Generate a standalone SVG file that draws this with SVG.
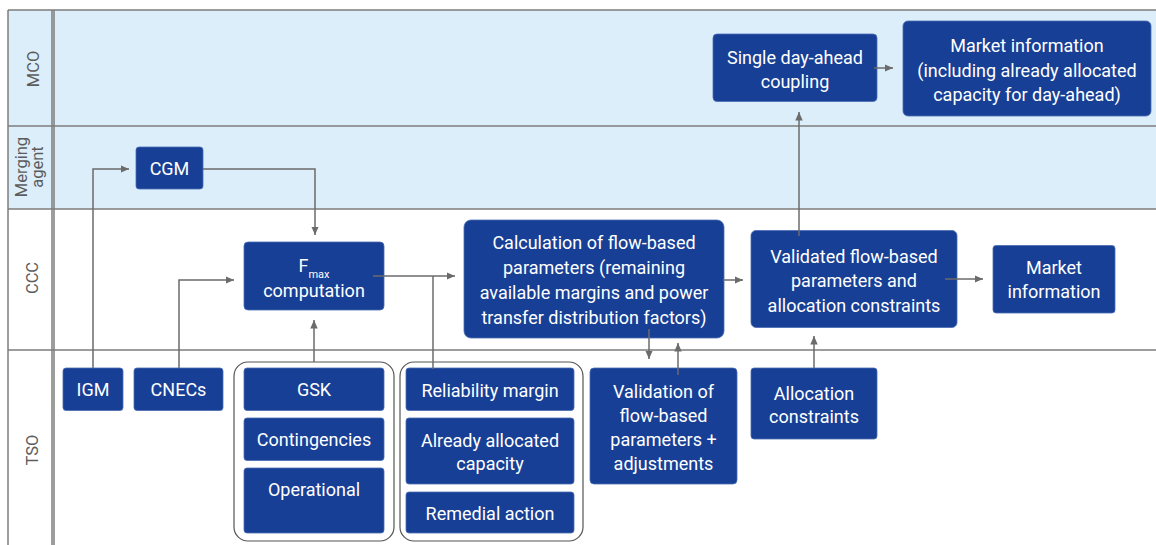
<svg xmlns="http://www.w3.org/2000/svg" width="1156" height="545" viewBox="0 0 1156 545">
  <style>
    .lane-fill { fill: #dceefa; }
    .grid { stroke: #7d7d7d; stroke-width: 1.5; fill: none; }
    .lane-label { font-family: Roboto, "Liberation Sans", sans-serif; font-size: 16.5px; fill: #5c5c5c; text-anchor: middle; }
    .box { fill: #183f96; stroke: #4a6cb3; stroke-width: 0.8; }
    .label { font-family: Roboto, "Liberation Sans", sans-serif; font-size: 18px; fill: #ffffff; text-anchor: middle; }
    .sub { font-size: 11px; }
    .frame { fill: none; stroke: #555555; stroke-width: 1.2; }
    .conn { fill: none; stroke: #6b6b6b; stroke-width: 1.5; }
  </style>
  <defs>
    <marker id="arrow" markerUnits="userSpaceOnUse" markerWidth="9" markerHeight="8" refX="8.5" refY="3.75" orient="auto">
      <path d="M0,0 L8.5,3.75 L0,7.5 z" fill="#6b6b6b"/>
    </marker>
  </defs>

  <rect width="1156" height="545" fill="#ffffff"/>

  <!-- swimlanes -->
  <g id="lanes">
    <rect class="lane-fill" x="8" y="10" width="1148" height="199"/>
    <path class="grid" d="M8,10 H1156 M8,126 H1156 M8,209 H1156 M8,350 H1156 M8,10 V545 M52,10 V545 M54,10 V545"/>
    <text class="lane-label" transform="translate(39,69) rotate(-90)">MCO</text>
    <text class="lane-label" transform="translate(27,167) rotate(-90)">Merging</text>
    <text class="lane-label" transform="translate(43,167) rotate(-90)">agent</text>
    <text class="lane-label" transform="translate(38,278) rotate(-90)">CCC</text>
    <text class="lane-label" transform="translate(38,450) rotate(-90)">TSO</text>
  </g>

  <!-- TSO input groupings -->
  <g id="group-network-inputs">
    <rect class="frame" x="234" y="362" width="160" height="179" rx="14"/>
  </g>
  <g id="group-margin-inputs">
    <rect class="frame" x="400" y="362" width="183" height="179" rx="14"/>
  </g>

  <!-- MCO -->
  <g id="sdac">
    <rect class="box" x="713" y="34" width="164" height="67.5" rx="4"/>
    <text class="label" x="795" y="64.3">Single day-ahead</text>
    <text class="label" x="795" y="88.3">coupling</text>
  </g>
  <g id="market-info-mco">
    <rect class="box" x="903" y="21" width="248" height="95" rx="5"/>
    <text class="label" x="1027" y="51.7">Market information</text>
    <text class="label" x="1027" y="76.7">(including already allocated</text>
    <text class="label" x="1027" y="101">capacity for day-ahead)</text>
  </g>

  <!-- Merging agent -->
  <g id="cgm">
    <rect class="box" x="136" y="147" width="67" height="42" rx="3"/>
    <text class="label" x="169.5" y="174.5">CGM</text>
  </g>

  <!-- CCC -->
  <g id="fmax">
    <rect class="box" x="244" y="242" width="140" height="68" rx="4"/>
    <text class="label" x="314" y="271.7">F<tspan class="sub" dy="6">max</tspan></text>
    <text class="label" x="314" y="296.7">computation</text>
  </g>
  <g id="fb-calculation">
    <rect class="box" x="464" y="220" width="260" height="118" rx="7"/>
    <text class="label" x="594" y="249.3">Calculation of flow-based</text>
    <text class="label" x="594" y="274.3">parameters (remaining</text>
    <text class="label" x="594" y="299.3">available margins and power</text>
    <text class="label" x="594" y="324">transfer distribution factors)</text>
  </g>
  <g id="validated-params">
    <rect class="box" x="751" y="230.5" width="206" height="97" rx="5"/>
    <text class="label" x="854" y="263.3">Validated flow-based</text>
    <text class="label" x="854" y="287.3">parameters and</text>
    <text class="label" x="854" y="311.7">allocation constraints</text>
  </g>
  <g id="market-info-ccc">
    <rect class="box" x="993" y="245.5" width="122" height="67.5" rx="3"/>
    <text class="label" x="1054" y="274.3">Market</text>
    <text class="label" x="1054" y="298.3">information</text>
  </g>

  <!-- TSO -->
  <g id="igm">
    <rect class="box" x="63" y="368" width="60" height="42.5" rx="3"/>
    <text class="label" x="93" y="395.5">IGM</text>
  </g>
  <g id="cnecs">
    <rect class="box" x="134" y="368" width="89" height="42.5" rx="3"/>
    <text class="label" x="178.5" y="395.5">CNECs</text>
  </g>
  <g id="gsk">
    <rect class="box" x="244" y="368" width="140" height="42.5" rx="3"/>
    <text class="label" x="314" y="396">GSK</text>
  </g>
  <g id="contingencies">
    <rect class="box" x="244" y="418" width="140" height="42.5" rx="3"/>
    <text class="label" x="314" y="446">Contingencies</text>
  </g>
  <g id="operational">
    <rect class="box" x="244" y="468" width="140" height="65" rx="3"/>
    <text class="label" x="314" y="496">Operational</text>
  </g>
  <g id="reliability-margin">
    <rect class="box" x="406" y="368" width="168" height="42.5" rx="3"/>
    <text class="label" x="490" y="396.7">Reliability margin</text>
  </g>
  <g id="already-allocated">
    <rect class="box" x="406" y="418" width="168" height="66" rx="3"/>
    <text class="label" x="490" y="446.7">Already allocated</text>
    <text class="label" x="490" y="470">capacity</text>
  </g>
  <g id="remedial-action">
    <rect class="box" x="406" y="492" width="168" height="41" rx="3"/>
    <text class="label" x="490" y="520">Remedial action</text>
  </g>
  <g id="validation">
    <rect class="box" x="590" y="368" width="147" height="116" rx="4"/>
    <text class="label" x="663.5" y="398.3">Validation of</text>
    <text class="label" x="663.5" y="421.7">flow-based</text>
    <text class="label" x="663.5" y="446">parameters +</text>
    <text class="label" x="663.5" y="470">adjustments</text>
  </g>
  <g id="allocation-constraints">
    <rect class="box" x="751" y="368" width="126" height="71" rx="3"/>
    <text class="label" x="814" y="400">Allocation</text>
    <text class="label" x="814" y="423.3">constraints</text>
  </g>

  <!-- connectors -->
  <g id="connectors">
    <path class="conn" d="M93,368 V169 H129" marker-end="url(#arrow)"/>
    <path class="conn" d="M203,169 H315 V235" marker-end="url(#arrow)"/>
    <path class="conn" d="M179,368 V280 H234" marker-end="url(#arrow)"/>
    <path class="conn" d="M314,362 V320" marker-end="url(#arrow)"/>
    <path class="conn" d="M373,276 H455" marker-end="url(#arrow)"/>
    <path class="conn" d="M433,276 V369"/>
    <path class="conn" d="M723,280 H743" marker-end="url(#arrow)"/>
    <path class="conn" d="M649,329 V359" marker-end="url(#arrow)"/>
    <path class="conn" d="M678,375 V343" marker-end="url(#arrow)"/>
    <path class="conn" d="M799,236 V112" marker-end="url(#arrow)"/>
    <path class="conn" d="M874,68 H893" marker-end="url(#arrow)"/>
    <path class="conn" d="M945,279 H983" marker-end="url(#arrow)"/>
    <path class="conn" d="M814,368 V336" marker-end="url(#arrow)"/>
  </g>
</svg>
